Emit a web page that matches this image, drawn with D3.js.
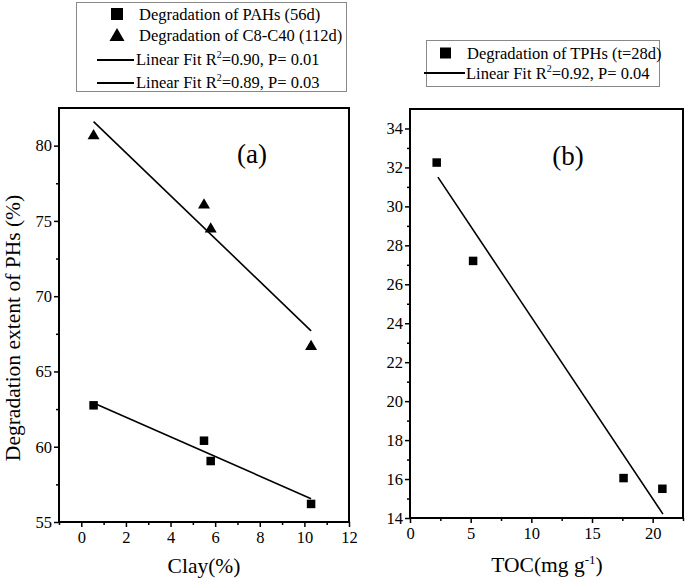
<!DOCTYPE html>
<html>
<head>
<meta charset="utf-8">
<script src="https://cdn.jsdelivr.net/npm/d3@7"></script>
<style>
  html, body { margin: 0; padding: 0; background: #fff; }
  svg { display: block; }
  text { font-family: "Liberation Serif", "Times New Roman", serif; fill: #000; }
</style>
</head>
<body>
<svg id="chart" width="685" height="582"></svg>
<script>
// ---- Data ----
const clay = [0.55, 5.5, 5.8, 10.3];
const pahs = [62.75, 60.4, 59.05, 56.2];
const c8c40 = [80.7, 76.1, 74.5, 66.7];
const pahFitX = [0.55, 10.3];
const pahFitY = [62.9, 56.55];
const c8FitX = [0.55, 10.3];
const c8FitY = [81.6, 67.7];

const toc = [2.2, 5.2, 17.6, 20.8];
const tphs = [32.25, 27.2, 16.05, 15.5];
const tphFitX = [2.3, 20.85];
const tphFitY = [31.5, 14.2];

const xTicksA = [0, 2, 4, 6, 8, 10, 12];
const yTicksA = [55, 60, 65, 70, 75, 80];
const xTicksB = [0, 5, 10, 15, 20];
const yTicksB = [14, 16, 18, 20, 22, 24, 26, 28, 30, 32, 34];

const legendA = ["Degradation of PAHs (56d)", "Degradation of C8-C40 (112d)"];
const fitLabelsA = [["0.90", "0.01"], ["0.89", "0.03"]];
const legendB = "Degradation of TPHs (t=28d)";
const fitLabelB = ["0.92", "0.04"];

const FONT = '"Liberation Serif", "Times New Roman", serif';
const svg = d3.select("#chart");

function frame(x, y) {
  const [x0, x1] = x.range();
  const [y0, y1] = y.range();
  svg.append("rect").attr("x", x0).attr("y", y1).attr("width", x1 - x0).attr("height", y0 - y1)
    .attr("fill", "none").attr("stroke", "#000").attr("stroke-width", 2);
}

function axes(x, y, xt, yt, xMinor, yMinor) {
  const [y0] = y.range();
  const [x0] = x.range();
  svg.append("g").attr("transform", `translate(0,${y0})`)
    .call(d3.axisBottom(x).tickValues(xMinor).tickSize(3).tickFormat(""))
    .call(g => g.select(".domain").remove())
    .selectAll("line").attr("stroke-width", 1.5);
  svg.append("g").attr("transform", `translate(${x0},0)`)
    .call(d3.axisLeft(y).tickValues(yMinor).tickSize(3).tickFormat(""))
    .call(g => g.select(".domain").remove())
    .selectAll("line").attr("stroke-width", 1.5);
  const gx = svg.append("g").attr("transform", `translate(0,${y0})`)
    .call(d3.axisBottom(x).tickValues(xt).tickSize(5).tickPadding(4).tickFormat(d3.format("d")))
    .call(g => g.select(".domain").remove());
  gx.attr("font-family", FONT).attr("font-size", 16.5);
  gx.selectAll("line").attr("stroke-width", 1.5);
  const gy = svg.append("g").attr("transform", `translate(${x0},0)`)
    .call(d3.axisLeft(y).tickValues(yt).tickSize(5).tickPadding(2).tickFormat(d3.format("d")))
    .call(g => g.select(".domain").remove());
  gy.attr("font-family", FONT).attr("font-size", 16.5);
  gy.selectAll("line").attr("stroke-width", 1.5);
}

function squares(x, y, xs, ys, size) {
  svg.append("g").selectAll("rect").data(xs.map((d, i) => [d, ys[i]])).join("rect")
    .attr("x", d => x(d[0]) - size / 2).attr("y", d => y(d[1]) - size / 2)
    .attr("width", size).attr("height", size).attr("fill", "#000");
}
function triangles(x, y, xs, ys, w) {
  const h = w * 0.85;
  svg.append("g").selectAll("path").data(xs.map((d, i) => [d, ys[i]])).join("path")
    .attr("d", d => {
      const cx = x(d[0]), cy = y(d[1]);
      return `M${cx},${cy - h * 0.6}L${cx + w / 2},${cy + h * 0.4}L${cx - w / 2},${cy + h * 0.4}Z`;
    })
    .attr("fill", "#000");
}
function fitLine(x, y, xs, ys) {
  svg.append("path").datum(xs.map((d, i) => [d, ys[i]]))
    .attr("d", d3.line().x(d => x(d[0])).y(d => y(d[1])))
    .attr("fill", "none").attr("stroke", "#000").attr("stroke-width", 1.6);
}

// ---- Panel (a) ----
const xA = d3.scaleLinear().domain([-1, 12]).range([59, 349]);
const yA = d3.scaleLinear().domain([55, 82.5]).range([522, 108]);
axes(xA, yA, xTicksA, yTicksA, d3.range(-1, 12, 1).filter(v => v % 2 !== 0), d3.range(57.5, 82.5, 5));
fitLine(xA, yA, c8FitX, c8FitY);
fitLine(xA, yA, pahFitX, pahFitY);
squares(xA, yA, clay, pahs, 8.5);
triangles(xA, yA, clay, c8c40, 12);
frame(xA, yA);
svg.append("text").attr("x", 252).attr("y", 163).attr("text-anchor", "middle")
  .attr("font-size", 27).text("(a)");
svg.append("text").attr("x", xA(5.5)).attr("y", 573).attr("text-anchor", "middle")
  .attr("font-size", 21.5).text("Clay(%)");
svg.append("text").attr("transform", "translate(19.5,328) rotate(-90)").attr("text-anchor", "middle")
  .attr("font-size", 21.5).text("Degradation extent of PHs (%)");

// ---- Panel (b) ----
const xB = d3.scaleLinear().domain([0, 22.5]).range([410, 683]);
const yB = d3.scaleLinear().domain([14, 35]).range([518, 109]);
axes(xB, yB, xTicksB, yTicksB, [2.5, 7.5, 12.5, 17.5, 22.5], d3.range(15, 35, 2));
fitLine(xB, yB, tphFitX, tphFitY);
squares(xB, yB, toc, tphs, 8.5);
frame(xB, yB);
svg.append("text").attr("x", 568).attr("y", 165).attr("text-anchor", "middle")
  .attr("font-size", 27).text("(b)");
const tocLabel = svg.append("text").attr("x", 547).attr("y", 572).attr("text-anchor", "middle")
  .attr("font-size", 21.5);
tocLabel.append("tspan").text("TOC(mg g");
tocLabel.append("tspan").attr("dy", -8).attr("font-size", 13).text("-1");
tocLabel.append("tspan").attr("dy", 8).text(")");

// ---- Legends ----
function fitText(xp, yp, r2, p) {
  const t = svg.append("text").attr("x", xp).attr("y", yp).attr("font-size", 16.5);
  t.append("tspan").text("Linear Fit R");
  t.append("tspan").attr("dy", -7).attr("font-size", 10).text("2");
  t.append("tspan").attr("dy", 7).text(`=${r2}, P= ${p}`);
}

// Legend (a)
svg.append("rect").attr("x", 76.5).attr("y", 2.5).attr("width", 270).attr("height", 89)
  .attr("fill", "#fff").attr("stroke", "#888").attr("stroke-width", 1);
svg.append("rect").attr("x", 111).attr("y", 8).attr("width", 12).attr("height", 12).attr("fill", "#000");
svg.append("path").attr("d", "M117,28L124.5,41L109.5,41Z").attr("fill", "#000");
svg.append("text").attr("x", 139).attr("y", 19.5).attr("font-size", 16.5).text(legendA[0]);
svg.append("text").attr("x", 139).attr("y", 40.5).attr("font-size", 16.5).text(legendA[1]);
svg.append("line").attr("x1", 97).attr("x2", 134).attr("y1", 60).attr("y2", 60).attr("stroke", "#000").attr("stroke-width", 2);
svg.append("line").attr("x1", 97).attr("x2", 134).attr("y1", 83).attr("y2", 83).attr("stroke", "#000").attr("stroke-width", 2);
fitText(136, 65, fitLabelsA[0][0], fitLabelsA[0][1]);
fitText(136, 88, fitLabelsA[1][0], fitLabelsA[1][1]);

// Legend (b)
svg.append("rect").attr("x", 426.5).attr("y", 40.5).attr("width", 233).attr("height", 46)
  .attr("fill", "#fff").attr("stroke", "#888").attr("stroke-width", 1);
svg.append("rect").attr("x", 440).attr("y", 47.5).attr("width", 11).attr("height", 11).attr("fill", "#000");
svg.append("text").attr("x", 467).attr("y", 58.5).attr("font-size", 16.5).text(legendB);
svg.append("line").attr("x1", 424).attr("x2", 465).attr("y1", 73).attr("y2", 73).attr("stroke", "#000").attr("stroke-width", 2);
fitText(466, 79, fitLabelB[0], fitLabelB[1]);
</script>
</body>
</html>
